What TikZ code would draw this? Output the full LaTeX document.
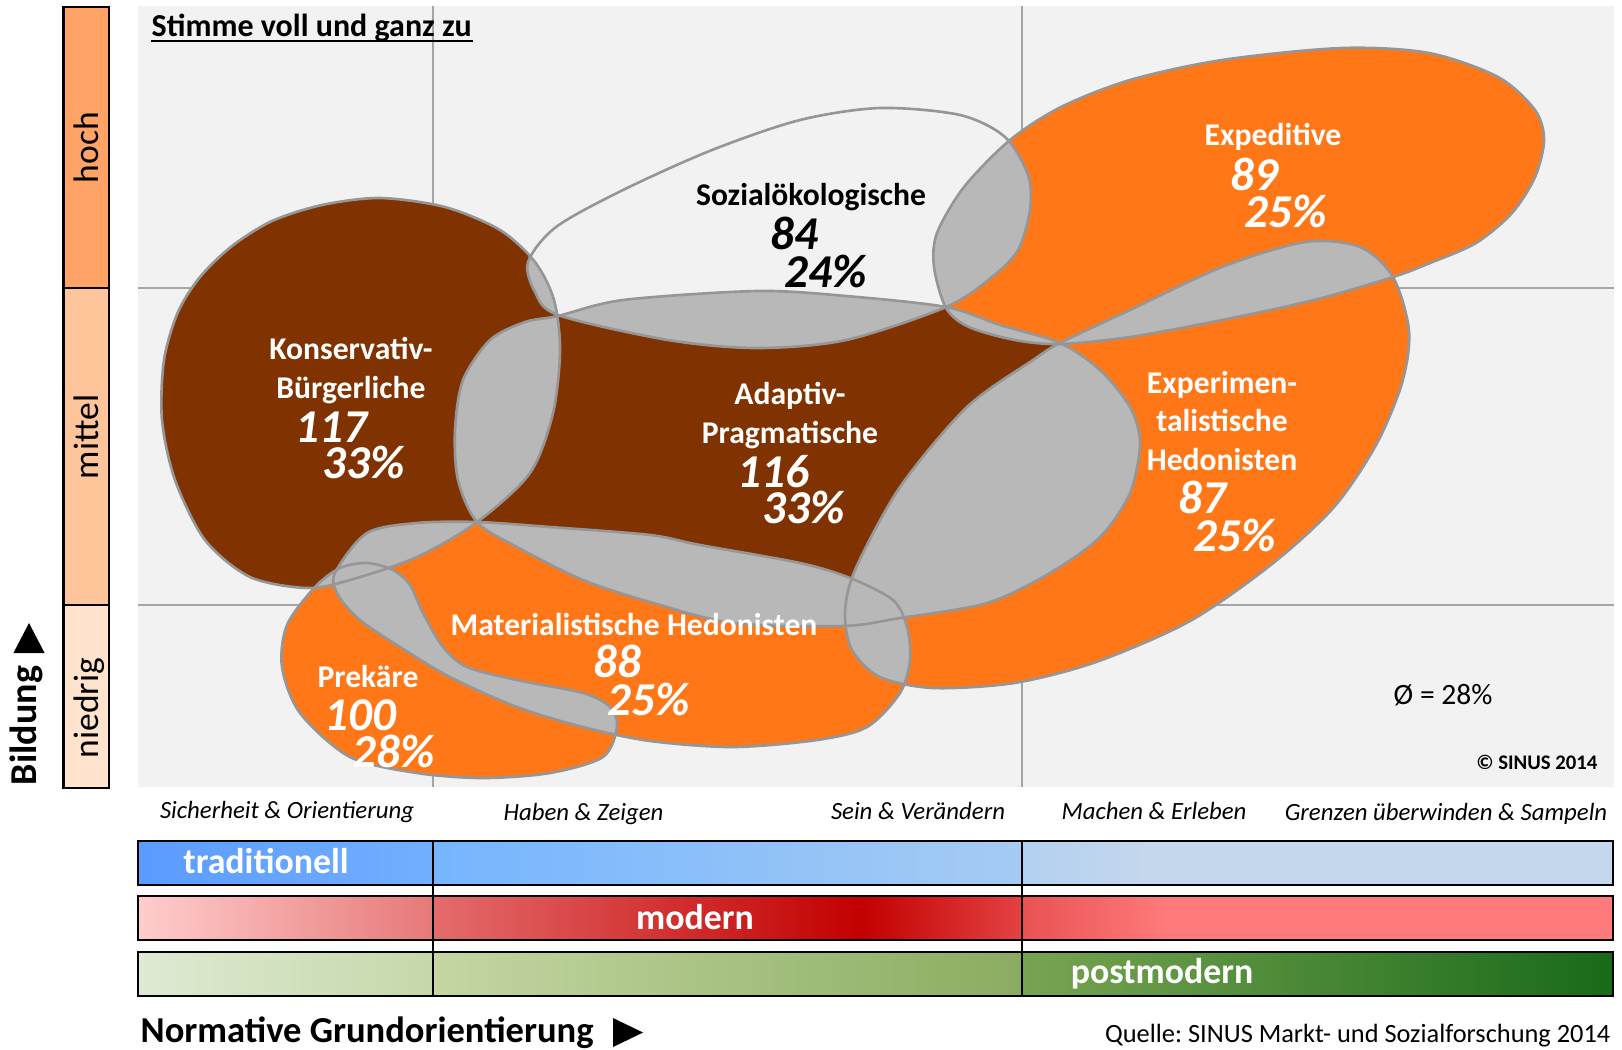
\documentclass[tikz,border=0pt]{standalone}
\usepackage{fontspec}
\setmainfont{Carlito}
\frenchspacing
\definecolor{milbrown}{RGB}{128,51,0}
\definecolor{milorange}{RGB}{255,119,22}
\definecolor{overlapgray}{RGB}{184,184,184}
\definecolor{edgegray}{RGB}{150,150,150}
\definecolor{panelgray}{RGB}{242,242,242}
\definecolor{gridgray}{RGB}{165,165,165}
\definecolor{hochcol}{RGB}{255,164,102}
\definecolor{mittelcol}{RGB}{255,197,154}
\definecolor{niedrigcol}{RGB}{255,227,205}
\definecolor{tradA}{RGB}{90,155,255}
\definecolor{tradB}{RGB}{115,175,255}
\definecolor{tradC}{RGB}{118,181,255}
\definecolor{tradD}{RGB}{165,203,243}
\definecolor{tradE}{RGB}{178,209,240}
\definecolor{tradF}{RGB}{197,215,236}
\definecolor{modA}{RGB}{255,205,205}
\definecolor{modB}{RGB}{231,120,120}
\definecolor{modC}{RGB}{228,108,108}
\definecolor{modD}{RGB}{195,0,0}
\definecolor{modE}{RGB}{228,66,66}
\definecolor{modF}{RGB}{233,82,82}
\definecolor{modG}{RGB}{255,123,123}
\definecolor{postA}{RGB}{222,234,211}
\definecolor{postB}{RGB}{198,216,170}
\definecolor{postC}{RGB}{196,215,163}
\definecolor{postD}{RGB}{138,172,96}
\definecolor{postE}{RGB}{120,164,82}
\definecolor{postF}{RGB}{24,106,24}

% milieu outlines (pixel units, y downwards)
\newcommand\milKB{plot[smooth cycle] coordinates {(380,198) (445,207) (500,230) (535,262) (554,300) (560,350) (553,413) (530,473) (477,522) (417,557) (350,580) (307,588) (250,577) (205,540) (175,480) (162,420) (164,360) (178,312) (200,277) (232,246) (272,221) (322,205)}}
\newcommand\milSOK{plot[smooth cycle] coordinates {(528,262) (556,227) (623,190) (712,150) (800,120) (880,108) (960,115) (1005,137) (1028,175) (1030,210) (1018,250) (992,277) (946,307) (846,340) (757,348) (668,340) (558,315) (535,292)}}
\newcommand\milEXP{plot[smooth cycle] coordinates {(946,308) (934,267) (937,233) (964,187) (1010,140) (1061,107) (1130,80) (1222,60) (1342,48) (1429,53) (1498,77) (1535,110) (1544,140) (1535,177) (1512,213) (1476,243) (1430,263) (1393,277) (1314,300) (1222,320) (1130,337) (1060,344) (1015,340) (969,327)}}
\newcommand\milADA{plot[smooth cycle] coordinates {(558,316) (623,300) (757,291) (846,296) (946,307) (1000,325) (1060,343) (1100,370) (1130,407) (1140,443) (1130,493) (1100,537) (1050,573) (987,603) (900,618) (843,626) (733,623) (650,602) (583,580) (517,547) (477,522) (458,480) (455,430) (463,380) (490,340) (525,322)}}
\newcommand\milEXH{plot[smooth cycle] coordinates {(1060,343) (1130,310) (1222,267) (1305,242) (1360,247) (1393,277) (1409,331) (1402,383) (1376,445) (1334,507) (1272,564) (1190,621) (1096,662) (1014,683) (933,688) (880,677) (852,650) (845,613) (855,570) (900,487) (967,407) (1033,360)}}
\newcommand\milMAT{plot[smooth cycle] coordinates {(335,573) (367,533) (417,523) (477,522) (550,527) (650,535) (700,545) (800,563) (850,578) (893,600) (907,627) (910,660) (900,693) (867,727) (817,740) (733,747) (650,741) (583,727) (517,707) (450,677) (400,647) (360,620) (338,595)}}
\newcommand\milPRE{plot[smooth cycle] coordinates {(315,587) (340,568) (367,563) (393,570) (410,585) (423,613) (443,647) (467,667) (517,680) (583,693) (610,707) (617,727) (603,757) (550,773) (483,778) (417,773) (350,757) (300,713) (282,667) (287,625)}}

% gray where two milieus share ground
\newcommand\lensfill[2]{\begin{scope}\clip #1;\fill[overlap] #2;\end{scope}}

\tikzset{
	milieu/.style={draw=edgegray,line width=0.75pt},
	overlap/.style={fill=overlapgray},
	grid line/.style={draw=gridgray,line width=0.45pt},
	mname/.style={inner sep=0pt,anchor=base,align=center,text=white,font=\fontsize{9}{10.95}\selectfont\bfseries},
	mnum/.style={inner sep=0pt,anchor=base west,text=white,font=\fontsize{13.4}{14}\selectfont\bfseries\itshape},
	orientlabel/.style={inner sep=0pt,anchor=base,font=\fontsize{7.05}{8}\selectfont\itshape},
	barlabel/.style={inner sep=0pt,anchor=base,text=white,font=\fontsize{10.2}{12}\selectfont\bfseries},
	edulevel/.style={inner sep=0pt,anchor=base,rotate=90,font=\fontsize{10.1}{12}\selectfont},
	levelbar/.style={draw=black,line width=0.6pt},
	orientbar/.style={draw=black,line width=0.8pt},
}

\begin{document}
\begin{tikzpicture}[x=0.1mm,y=-0.1mm]
	\useasboundingbox (0,0) rectangle (1622,1049);
	% panel and grid
	\fill[panelgray] (137.5,6) rectangle (1614,786.5);
	\draw[grid line] (433,6) -- (433,786.5) (1022,6) -- (1022,786.5);
	\draw[grid line] (137.5,288) -- (1614,288) (137.5,605) -- (1614,605);

	% milieus
	\fill[milbrown] \milKB;
	\fill[panelgray] \milSOK;
	\fill[milorange] \milEXP;
	\fill[milbrown] \milADA;
	\fill[milorange] \milEXH;
	\fill[milorange] \milMAT;
	\fill[milorange] \milPRE;
	\lensfill{\milKB}{\milSOK}
	\lensfill{\milKB}{\milADA}
	\lensfill{\milKB}{\milMAT}
	\lensfill{\milKB}{\milPRE}
	\lensfill{\milSOK}{\milADA}
	\lensfill{\milSOK}{\milEXP}
	\lensfill{\milADA}{\milEXP}
	\lensfill{\milADA}{\milEXH}
	\lensfill{\milADA}{\milMAT}
	\lensfill{\milEXP}{\milEXH}
	\lensfill{\milMAT}{\milEXH}
	\lensfill{\milMAT}{\milPRE}
	\draw[milieu] \milKB;
	\draw[milieu] \milSOK;
	\draw[milieu] \milEXP;
	\draw[milieu] \milADA;
	\draw[milieu] \milEXH;
	\draw[milieu] \milMAT;
	\draw[milieu] \milPRE;

	% labels (multi-line names sit on their last baseline)
	\node[mname] (kbName) at (351,398) {Konservativ-\\Bürgerliche};
	\node[mnum] (kbNum) at (295,442) {117};
	\node[mnum] (kbPct) at (322,478) {33\%};
	\node[mname,text=black] (sokName) at (811,205) {Sozialökologische};
	\node[mnum,text=black] (sokNum) at (770,249) {84};
	\node[mnum,text=black] (sokPct) at (784,287) {24\%};
	\node[mname] (adaName) at (790,443) {Adaptiv-\\Pragmatische};
	\node[mnum] (adaNum) at (737,487) {116};
	\node[mnum] (adaPct) at (762,523) {33\%};
	\node[mname] (expName) at (1273,145) {Expeditive};
	\node[mnum] (expNum) at (1230,190) {89};
	\node[mnum] (expPct) at (1244,227) {25\%};
	\node[mname] (exhName) at (1222,470) {Experimen-\\talistische\\Hedonisten};
	\node[mnum] (exhNum) at (1178,513) {87};
	\node[mnum] (exhPct) at (1193,551) {25\%};
	\node[mname] (matName) at (634,635) {Materialistische Hedonisten};
	\node[mnum] (matNum) at (593,677) {88};
	\node[mnum] (matPct) at (607,715) {25\%};
	\node[mname] (preName) at (368,687) {Prekäre};
	\node[mnum] (preNum) at (324,730) {100};
	\node[mnum] (prePct) at (352,767) {28\%};

	\node[inner sep=0pt,anchor=base west,font=\fontsize{9.1}{11}\selectfont\bfseries] (title) at (151,36) {Stimme voll und ganz zu};
	\draw[line width=0.6pt] ([yshift=-1.4pt]title.base west) -- ([yshift=-1.4pt]title.base east);
	\node[inner sep=0pt,anchor=base west,font=\fontsize{8.4}{10}\selectfont] (avg) at (1393,704) {Ø = 28\%};
	\node[inner sep=0pt,anchor=base east,font=\fontsize{5.9}{7}\selectfont\bfseries] (copy) at (1598,769) {© SINUS 2014};

	% education levels
	\fill[hochcol] (63.5,6.7) rectangle (109,288);
	\fill[mittelcol] (63.5,288) rectangle (109,605);
	\fill[niedrigcol] (63.5,605) rectangle (109,788);
	\draw[levelbar] (63.5,6.7) rectangle (109,788) (63.5,288) -- (109,288) (63.5,605) -- (109,605);
	\node[edulevel] (hoch) at (98,147.5) {hoch};
	\node[edulevel] (mittel) at (98,437) {mittel};
	\node[edulevel] (niedrig) at (98,708) {niedrig};
	\node[edulevel,font=\fontsize{10.8}{12}\selectfont\bfseries] (bildung) at (36.6,725.5) {Bildung};
	\fill (13.4,653) -- (44.6,653) -- (29,623) -- cycle;

	% basic orientations
	\node[orientlabel] (sich) at (287,818) {Sicherheit \& Orientierung};
	\node[orientlabel] (haben) at (583.5,820) {Haben \& Zeigen};
	\node[orientlabel] (sein) at (918,819) {Sein \& Verändern};
	\node[orientlabel] (machen) at (1154,819) {Machen \& Erleben};
	\node[orientlabel] (grenzen) at (1446,820) {Grenzen überwinden \& Sampeln};

	\shade[left color=tradA,right color=tradB] (138,841) rectangle (433,885);
	\shade[left color=tradC,right color=tradD] (433,841) rectangle (1022,885);
	\shade[left color=tradE,right color=tradF] (1022,841) rectangle (1150,885);
	\fill[tradF] (1150,841) rectangle (1613,885);
	\shade[left color=modA,right color=modB] (138,896) rectangle (433,940);
	\shade[left color=modC,right color=modD] (433,896) rectangle (860,940);
	\shade[left color=modD,right color=modE] (860,896) rectangle (1022,940);
	\shade[left color=modF,right color=modG] (1022,896) rectangle (1170,940);
	\fill[modG] (1170,896) rectangle (1613,940);
	\shade[left color=postA,right color=postB] (138,952) rectangle (433,996);
	\shade[left color=postC,right color=postD] (433,952) rectangle (1022,996);
	\shade[left color=postE,right color=postF] (1022,952) rectangle (1613,996);
	\draw[orientbar] (138,841) rectangle (1613,885) (138,896) rectangle (1613,940) (138,952) rectangle (1613,996);
	\draw[orientbar] (433,841) -- (433,996) (1022,841) -- (1022,996);
	\node[barlabel] (trad) at (266,873) {traditionell};
	\node[barlabel] (modern) at (695,929) {modern};
	\node[barlabel] (postmod) at (1162,983) {postmodern};

	\node[inner sep=0pt,anchor=base west,font=\fontsize{10.4}{12}\selectfont\bfseries] (normativ) at (140,1042) {Normative Grundorientierung};
	\fill (613,1018) -- (643,1032.5) -- (613,1047) -- cycle;
	\node[inner sep=0pt,anchor=base east,font=\fontsize{7.5}{9}\selectfont] (quelle) at (1611,1042) {Quelle: SINUS Markt- und Sozialforschung 2014};
\end{tikzpicture}
\end{document}
